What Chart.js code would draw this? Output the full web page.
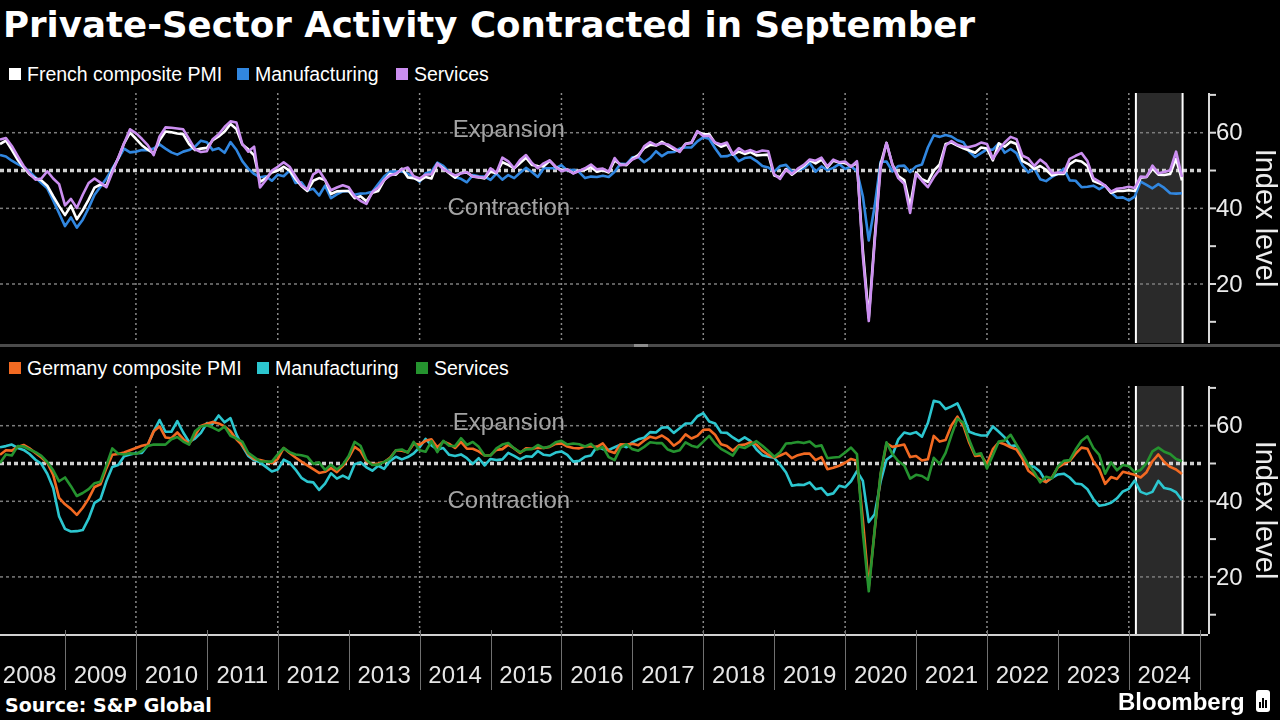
<!DOCTYPE html>
<html lang="en">
<head>
<meta charset="utf-8">
<title>Private-Sector Activity Contracted in September</title>
<script src="https://cdn.jsdelivr.net/npm/chart.js@4.4.1/dist/chart.umd.min.js"></script>
<style>
  html, body { margin: 0; padding: 0; background: #000; }
  #main { position: relative; width: 1280px; height: 720px; overflow: hidden; background: #000; color: #fff; font-family: "Liberation Sans", Arial, sans-serif; }
  #title { position: absolute; left: 3px; top: 3px; margin: 0; font-family: "DejaVu Sans", sans-serif; font-weight: bold; font-size: 35.6px; line-height: 44px; white-space: nowrap; }
  .legend { position: absolute; left: 0; width: 700px; height: 24px; font-size: 19.5px; }
  .legend-item { position: absolute; top: 0; line-height: 24px; white-space: nowrap; padding-left: 18px; }
  .legend-item i { position: absolute; left: 0; top: 6px; width: 12px; height: 12px; }
  canvas { position: absolute; left: 0; }
  #divider { position: absolute; left: 0; top: 344px; width: 1280px; height: 3px; background: #4b4b4b; }
  #divider-grip { position: absolute; left: 634px; top: 344px; width: 14px; height: 3px; background: #8c8c8c; }
  #source { position: absolute; left: 5px; top: 694px; font-family: "DejaVu Sans", sans-serif; font-weight: bold; font-size: 19px; line-height: 22px; white-space: nowrap; }
  #brand { position: absolute; left: 1118px; top: 688px; font-weight: bold; font-size: 24px; line-height: 28px; }
  #brand-icon { position: absolute; left: 1256px; top: 690px; width: 14px; height: 22px; background: #fff; border-radius: 3px; }
  #brand-icon span { position: absolute; bottom: 4px; width: 2px; background: #000; }
</style>
</head>
<body>
<div id="main">
  <h1 id="title">Private-Sector Activity Contracted in September</h1>
  <div class="legend" id="legend-fr" style="top:62px"></div>
  <canvas id="chart-fr" width="1280" height="250" style="top:93px"></canvas>
  <div id="divider"></div>
  <div id="divider-grip"></div>
  <div class="legend" id="legend-de" style="top:356px"></div>
  <canvas id="chart-de" width="1280" height="306" style="top:386px"></canvas>
  <div id="source">Source: S&amp;P Global</div>
  <div id="brand">Bloomberg</div>
  <div id="brand-icon">
    <span style="left:3px;height:6px"></span><span style="left:6px;height:10px"></span><span style="left:9px;height:8px"></span>
  </div>
</div>

<script>
// monthly values, Jan 2008 .. Sep 2024 (index 0 = Jan 2008)
const years = [2008, 2009, 2010, 2011, 2012, 2013, 2014, 2015, 2016, 2017, 2018, 2019, 2020, 2021, 2022, 2023, 2024];
const yTickLabels = [20, 40, 60];
const yTickMarks = [10, 20, 30, 40, 50, 60, 70];
const gridLevels = [20, 40, 60];
const neutralLevel = 50;

const frenchLabels = ["French composite PMI", "Manufacturing", "Services"];
const germanLabels = ["Germany composite PMI", "Manufacturing", "Services"];

const franceComposite = [
  57.0, 57.9, 55.5, 52.8, 50.8, 49.0, 47.9, 47.4, 46.0, 43.2, 40.6, 38.2,
  40.7, 37.1, 39.5, 42.3, 45.5, 46.3, 46.0, 50.0, 53.2, 57.2, 60.0, 58.4,
  56.7, 55.5, 54.5, 58.0, 60.3, 60.1, 59.8, 59.6, 57.0, 55.4, 55.8, 56.0,
  58.0, 59.0, 60.3, 62.3, 61.0, 56.9, 55.6, 54.0, 47.0, 48.0, 49.5, 50.0,
  51.0, 50.0, 47.8, 45.9, 44.6, 47.3, 48.0, 47.5, 43.8, 44.5, 44.6, 44.6,
  42.7, 43.2, 41.9, 44.1, 44.6, 47.4, 49.1, 48.9, 50.5, 48.2, 48.0, 47.3,
  48.3, 47.9, 51.8, 50.6, 49.3, 48.1, 49.4, 49.5, 48.4, 48.2, 47.9, 49.7,
  49.3, 52.2, 51.5, 50.6, 52.0, 53.4, 51.5, 51.2, 51.1, 52.6, 51.0, 50.1,
  50.2, 49.3, 50.0, 50.2, 50.9, 49.7, 50.1, 49.5, 52.7, 51.6, 51.4, 53.1,
  54.1, 55.9, 56.8, 56.6, 57.6, 56.6, 55.6, 55.1, 57.1, 57.4, 60.3, 59.6,
  59.6, 57.3, 56.3, 56.9, 54.2, 55.0, 54.4, 54.9, 54.0, 54.1, 54.2, 48.7,
  48.2, 50.4, 48.9, 50.1, 51.2, 52.7, 51.9, 52.9, 50.8, 52.6, 52.1, 52.0,
  51.1, 52.0, 28.9, 11.1, 32.1, 51.7, 57.3, 51.6, 48.5, 47.5, 40.6, 49.5,
  47.7, 47.0, 50.0, 51.6, 57.0, 57.4, 56.6, 55.9, 55.3, 54.7, 56.1, 55.8,
  52.7, 57.2, 56.3, 57.6, 57.0, 52.5, 51.7, 50.4, 51.2, 50.2, 48.7, 49.1,
  49.1, 51.7, 52.7, 52.4, 51.2, 47.2, 46.6, 46.0, 44.1, 44.6, 44.6, 44.8,
  44.6, 48.1, 48.3, 50.5, 48.9, 48.8, 49.1, 53.1, 47.4
];
const franceManufacturing = [
  54.1, 53.7, 52.6, 51.7, 50.9, 49.7, 48.2, 46.7, 45.3, 42.1, 38.7, 35.3,
  37.6, 34.9, 37.0, 40.1, 43.6, 45.7, 47.9, 50.5, 53.1, 55.8, 54.8, 55.0,
  55.4, 55.4, 55.8, 56.9, 55.8, 54.8, 54.2, 55.0, 55.4, 56.3, 57.9, 57.5,
  55.4, 55.9, 54.7, 57.5, 55.5, 52.5, 50.5, 49.1, 48.2, 48.5, 47.3, 48.9,
  48.5, 50.0, 46.7, 46.9, 44.7, 45.2, 43.4, 46.0, 42.7, 43.7, 44.5, 44.6,
  43.6, 43.9, 44.0, 44.4, 46.4, 48.4, 49.7, 49.7, 49.8, 49.1, 48.4, 47.0,
  49.3, 49.7, 52.1, 51.2, 49.6, 48.2, 47.8, 46.9, 48.8, 48.5, 48.4, 47.5,
  49.2, 47.6, 48.8, 48.0, 49.4, 50.7, 49.6, 48.3, 50.6, 50.6, 50.6, 51.4,
  50.0, 50.2, 49.6, 48.0, 48.4, 48.3, 48.6, 48.3, 49.7, 51.8, 51.7, 53.5,
  53.6, 52.2, 53.3, 55.1, 53.8, 54.8, 54.9, 55.8, 56.1, 56.1, 57.7, 58.8,
  58.4, 55.9, 53.7, 53.8, 54.4, 52.5, 53.3, 53.5, 52.5, 51.2, 50.8, 49.7,
  51.2, 51.5, 49.7, 50.0, 50.6, 52.0, 49.7, 51.1, 50.1, 50.7, 51.7, 50.4,
  51.1, 49.8, 43.2, 31.5, 40.6, 52.3, 52.4, 49.8, 51.2, 51.3, 49.6, 51.1,
  51.6, 56.1, 59.3, 58.9, 59.4, 59.0, 58.0, 57.5, 55.0, 53.6, 54.6, 55.6,
  55.5, 57.2, 54.7, 55.7, 54.6, 51.4, 49.5, 50.6, 47.7, 47.2, 48.3, 49.2,
  50.5, 47.4, 47.3, 45.6, 45.7, 46.0, 45.1, 46.0, 44.2, 42.8, 42.9, 42.1,
  43.1, 47.1, 46.2, 45.3, 46.4, 45.4, 44.0, 43.9, 44.0
];
const franceServices = [
  58.2, 58.6, 56.5, 53.8, 51.2, 49.2, 47.6, 47.9, 49.8, 47.9, 46.4, 40.8,
  42.5, 40.1, 43.6, 46.7, 47.9, 46.8, 45.6, 49.5, 53.4, 57.2, 60.9, 59.9,
  58.4, 56.7, 54.1, 59.0, 61.4, 61.3, 61.1, 60.9, 58.3, 55.6, 54.9, 55.1,
  58.3, 59.6, 61.5, 63.0, 62.7, 57.0, 55.0, 56.3, 45.5, 47.5, 50.0, 51.0,
  52.2, 51.0, 48.5, 46.1, 45.0, 49.0, 50.0, 47.5, 44.8, 45.5, 46.1, 45.6,
  43.2, 42.0, 41.2, 44.3, 45.5, 47.5, 48.7, 49.2, 50.3, 50.8, 48.5, 47.9,
  48.9, 49.0, 51.8, 50.4, 49.5, 48.7, 49.2, 49.6, 48.4, 48.3, 48.1, 50.6,
  49.4, 53.4, 52.4, 50.6, 52.8, 54.1, 52.0, 50.6, 51.9, 52.7, 51.0, 49.8,
  50.3, 49.2, 49.9, 50.6, 51.6, 50.3, 50.5, 49.7, 53.3, 51.4, 51.6, 52.9,
  53.6, 56.4, 57.5, 56.7, 57.2, 56.9, 56.0, 54.9, 57.0, 57.3, 60.4, 59.1,
  59.2, 57.4, 56.9, 57.4, 54.3, 55.9, 54.9, 55.4, 54.8, 55.3, 55.1, 49.0,
  47.8, 50.2, 49.1, 50.5, 51.5, 52.9, 52.6, 53.4, 51.1, 52.9, 52.2, 52.4,
  51.0, 52.5, 27.4, 10.2, 31.1, 50.7, 57.3, 51.5, 48.0, 46.5, 38.8, 49.1,
  47.3, 45.6, 48.2, 50.3, 56.6, 57.8, 56.8, 56.3, 56.2, 56.6, 57.4, 57.0,
  53.1, 55.5, 57.4, 58.9, 58.3, 53.9, 53.2, 51.2, 52.9, 51.7, 49.3, 49.5,
  49.4, 53.1, 53.9, 54.6, 52.5, 48.0, 47.1, 46.0, 44.4, 45.2, 45.4, 45.7,
  45.4, 48.4, 48.3, 51.3, 49.3, 49.6, 50.1, 55.0, 48.3
];

const germanyComposite = [
  52.3, 53.5, 53.4, 54.4, 54.9, 54.0, 52.8, 51.6, 50.2, 47.0, 40.9, 39.2,
  38.0, 36.4, 38.3, 40.7, 43.8, 44.5, 48.7, 52.3, 52.5, 52.9, 53.5, 54.1,
  54.7, 55.0, 58.5, 59.8, 56.9, 56.7, 58.2, 56.5, 55.2, 57.5, 59.9, 60.5,
  61.0, 60.6, 59.8, 58.5, 56.4, 54.8, 52.5, 51.2, 50.9, 50.5, 50.1, 51.2,
  54.1, 52.8, 51.6, 50.5, 49.5, 48.5, 47.5, 47.8, 48.8, 47.7, 49.3, 51.5,
  54.4, 53.3, 50.6, 49.8, 50.0, 50.4, 51.5, 53.5, 53.4, 53.0, 55.2, 55.0,
  56.0, 56.4, 54.3, 55.8, 55.2, 54.1, 55.7, 53.9, 53.9, 53.2, 52.1, 52.2,
  53.6, 53.8, 55.0, 54.0, 52.8, 54.0, 53.9, 54.2, 54.1, 54.4, 55.2, 55.3,
  54.5, 54.1, 54.0, 54.5, 54.5, 54.4, 55.3, 53.3, 52.8, 55.1, 55.0, 55.2,
  54.8, 56.1, 57.1, 56.7, 57.4, 56.4, 54.7, 55.8, 57.7, 56.6, 57.3, 58.9,
  59.0, 57.6, 55.1, 54.6, 53.4, 54.8, 55.0, 55.6, 55.0, 53.4, 52.3, 51.6,
  52.1, 52.8, 51.4, 52.2, 52.6, 52.6, 50.9, 51.7, 48.5, 48.9, 49.4, 50.2,
  51.2, 50.7, 35.0, 17.4, 32.3, 47.0, 55.3, 54.4, 54.7, 55.0, 51.7, 52.0,
  50.8, 51.1, 57.3, 55.8, 56.2, 60.1, 62.4, 60.0, 55.5, 52.0, 52.2, 49.9,
  53.8, 55.6, 55.1, 54.3, 53.7, 51.3, 48.1, 46.9, 45.7, 45.1, 46.3, 49.0,
  49.9, 50.7, 52.6, 54.2, 53.9, 50.6, 48.5, 44.6, 46.4, 45.9, 47.8, 47.4,
  47.0, 46.3, 47.7, 50.6, 52.4, 50.4, 49.1, 48.4, 47.2
];
const germanyManufacturing = [
  54.3, 54.6, 55.0, 54.1, 53.6, 52.5, 51.0, 49.9, 47.3, 43.5, 36.0, 32.7,
  32.0, 32.1, 32.4, 35.4, 39.6, 40.6, 45.3, 49.1, 49.6, 51.9, 52.4, 52.7,
  52.8, 54.8, 58.5, 61.5, 58.4, 58.4, 61.2, 58.2, 55.7, 56.6, 58.1, 60.7,
  60.5, 62.7, 60.9, 62.0, 57.7, 54.6, 52.0, 50.9, 50.3, 49.1, 47.9, 48.4,
  51.0, 50.2, 48.4, 46.2, 45.2, 45.0, 43.0, 44.7, 47.4, 46.0, 46.8, 46.0,
  49.8, 50.3, 49.0, 48.1, 49.4, 48.6, 50.7, 51.8, 51.1, 51.7, 52.7, 54.3,
  56.5, 54.8, 53.7, 54.1, 52.3, 52.0, 52.4, 51.4, 49.9, 51.4, 49.5, 51.2,
  50.9, 51.1, 52.8, 52.0, 51.1, 51.9, 51.8, 53.3, 52.3, 52.1, 52.9, 53.2,
  52.3, 50.5, 50.7, 51.8, 52.1, 54.5, 53.8, 53.6, 54.3, 55.0, 54.3, 55.6,
  56.4, 56.8, 58.3, 58.2, 59.5, 59.6, 58.1, 59.3, 60.6, 60.6, 62.5, 63.3,
  61.1, 60.6, 58.2, 58.1, 56.9, 55.9, 56.9, 55.9, 53.7, 52.2, 51.8, 51.5,
  49.7, 47.6, 44.1, 44.4, 44.3, 45.0, 43.2, 43.5, 41.7, 42.1, 44.1, 43.7,
  45.3, 48.0, 45.4, 34.5, 36.6, 45.2, 51.0, 52.2, 56.4, 58.2, 57.8, 58.3,
  57.1, 60.7, 66.6, 66.2, 64.4, 65.1, 65.9, 62.6, 58.4, 57.8, 57.4, 57.4,
  59.8, 58.4, 56.9, 54.6, 54.8, 52.0, 49.3, 49.1, 47.8, 45.1, 46.2, 47.1,
  47.3, 46.3, 44.7, 44.5, 43.2, 40.6, 38.8, 39.1, 39.6, 40.8, 42.6, 43.3,
  45.5, 42.5, 41.9, 42.5, 45.4, 43.5, 43.2, 42.4, 40.3
];
const germanyServices = [
  50.1, 52.4, 52.1, 54.6, 54.5, 53.7, 53.0, 52.0, 50.4, 48.2, 45.3, 46.3,
  44.0, 41.4, 42.2, 43.2, 44.8, 45.2, 49.5, 54.0, 52.6, 52.4, 52.7, 52.5,
  53.3, 54.6, 55.0, 55.0, 55.0, 56.4, 57.0, 55.8, 55.0, 58.5, 59.8, 60.1,
  59.5, 58.7, 59.8, 57.3, 56.6, 55.8, 52.8, 51.7, 50.6, 50.5, 50.5, 52.4,
  54.1, 53.0, 52.4, 52.2, 51.8, 49.9, 50.3, 48.3, 49.7, 48.4, 49.7, 52.0,
  55.7, 54.7, 50.9, 49.6, 49.7, 50.4, 51.3, 53.5, 53.7, 52.9, 55.7, 53.5,
  53.1, 55.9, 53.0, 56.0, 54.7, 54.6, 56.7, 54.9, 55.7, 54.4, 52.1, 52.1,
  54.0, 55.0, 55.4, 54.0, 53.0, 53.7, 53.8, 54.9, 54.1, 54.5, 55.6, 56.0,
  55.0, 55.3, 55.1, 54.5, 55.2, 53.7, 54.4, 51.7, 50.9, 54.2, 55.1, 53.8,
  53.4, 54.4, 55.6, 55.4, 55.4, 53.7, 53.1, 53.5, 55.6, 54.7, 54.3, 55.8,
  57.3, 55.3, 53.9, 53.0, 52.1, 54.5, 54.1, 55.0, 55.9, 54.7, 53.3, 51.8,
  53.0, 55.3, 55.4, 55.7, 55.4, 55.8, 54.5, 54.8, 51.4, 51.6, 51.7, 52.9,
  54.2, 52.5, 31.7, 16.2, 32.6, 47.3, 55.6, 52.5, 50.6, 49.5, 46.0, 47.0,
  46.7, 45.7, 51.5, 49.9, 52.8, 57.5, 61.8, 60.8, 56.2, 52.4, 52.7, 48.7,
  52.2, 55.8, 56.1, 57.6, 55.0, 52.4, 49.7, 47.7, 45.0, 46.5, 46.1, 49.2,
  50.7, 50.9, 53.7, 56.0, 57.2, 54.1, 52.3, 47.3, 50.3, 48.2, 49.6, 49.3,
  47.7, 48.3, 50.1, 53.2, 54.2, 53.1, 52.5, 51.2, 50.6
];

// highlighted stretch, in month index units (Jan 2024 .. Sep 2024)
const shadeFrom = 192.2;
const shadeTo = 200.1;

const FONT = '"Liberation Sans", Arial, sans-serif';

// month index of Jan 1st of a year (points sit at month end)
function yearEdge(year) {
  return (year - 2008) * 12 - 1;
}

const decorPlugin = {
  id: "decor",
  beforeDatasetsDraw(chart) {
    const { ctx, chartArea: a, scales: { x, y } } = chart;
    ctx.save();

    const sx0 = x.getPixelForValue(shadeFrom);
    const sx1 = x.getPixelForValue(shadeTo);
    ctx.fillStyle = "#2a2a2a";
    ctx.fillRect(sx0, a.top, sx1 - sx0, a.bottom - a.top);

    ctx.strokeStyle = "#8a8a8a";
    ctx.lineWidth = 1.5;
    ctx.setLineDash([2, 3]);
    years.filter((yr) => yr % 2 === 0 && yr > 2008).forEach((yr) => {
      const px = x.getPixelForValue(yearEdge(yr));
      ctx.beginPath();
      ctx.moveTo(px, a.top);
      ctx.lineTo(px, a.bottom);
      ctx.stroke();
    });

    ctx.strokeStyle = "#7c7c7c";
    ctx.setLineDash([3, 3]);
    gridLevels.forEach((v) => {
      const py = y.getPixelForValue(v);
      ctx.beginPath();
      ctx.moveTo(a.left, py);
      ctx.lineTo(a.right - 4, py);
      ctx.stroke();
    });

    const p50 = y.getPixelForValue(neutralLevel);
    ctx.strokeStyle = "#cfcfcf";
    ctx.lineWidth = 3.5;
    ctx.setLineDash([4, 3]);
    ctx.beginPath();
    ctx.moveTo(a.left, p50);
    ctx.lineTo(a.right - 4, p50);
    ctx.stroke();

    ctx.setLineDash([]);
    ctx.strokeStyle = "#ffffff";
    ctx.lineWidth = 2;
    [sx0, sx1].forEach((px) => {
      ctx.beginPath();
      ctx.moveTo(px, a.top);
      ctx.lineTo(px, a.bottom);
      ctx.stroke();
    });

    ctx.fillStyle = "#a3a3a3";
    ctx.font = "24px " + FONT;
    ctx.textAlign = "center";
    ctx.textBaseline = "middle";
    const tx = x.getPixelForValue(86.1);
    ctx.fillText("Expansion", tx, y.getPixelForValue(60.7));
    ctx.fillText("Contraction", tx, y.getPixelForValue(40.1));
    ctx.restore();
  },
  afterDraw(chart, args, opts) {
    const { ctx, chartArea: a, scales: { x, y } } = chart;
    ctx.save();

    ctx.strokeStyle = "#d9d9d9";
    ctx.lineWidth = 2;
    ctx.beginPath();
    ctx.moveTo(a.right + 1, a.top);
    ctx.lineTo(a.right + 1, a.bottom);
    ctx.stroke();
    yTickMarks.forEach((v) => {
      const py = y.getPixelForValue(v);
      ctx.beginPath();
      ctx.moveTo(a.right, py);
      ctx.lineTo(a.right + 8, py);
      ctx.stroke();
    });

    ctx.fillStyle = "#ececec";
    ctx.font = "24px " + FONT;
    ctx.textAlign = "left";
    ctx.textBaseline = "middle";
    yTickLabels.forEach((v) => ctx.fillText(String(v), a.right + 8, y.getPixelForValue(v) + 1));

    ctx.save();
    ctx.translate(1264, (a.top + a.bottom) / 2);
    ctx.rotate(Math.PI / 2);
    ctx.textAlign = "center";
    ctx.font = "29px " + FONT;
    ctx.fillText("Index level", 0, 0);
    ctx.restore();

    if (opts.xAxis) {
      ctx.strokeStyle = "#d0d0d0";
      ctx.lineWidth = 2;
      ctx.beginPath();
      ctx.moveTo(a.left, a.bottom + 1);
      ctx.lineTo(a.right, a.bottom + 1);
      ctx.stroke();

      ctx.strokeStyle = "#707070";
      ctx.lineWidth = 1;
      years.concat([2025]).forEach((yr) => {
        if (yr === 2008) return;
        const px = Math.round(x.getPixelForValue(yearEdge(yr))) + 0.5;
        ctx.beginPath();
        ctx.moveTo(px, a.bottom - 4);
        ctx.lineTo(px, a.bottom + 56);
        ctx.stroke();
      });

      ctx.fillStyle = "#e6e6e6";
      ctx.font = "24px " + FONT;
      ctx.textAlign = "center";
      ctx.textBaseline = "middle";
      years.forEach((yr) => {
        ctx.fillText(String(yr), x.getPixelForValue(yearEdge(yr) + 6), a.bottom + 42);
      });
    }
    ctx.restore();
  },
};

function renderLegend(id, labels, colors, lefts) {
  const box = document.getElementById(id);
  labels.forEach((label, i) => {
    const item = document.createElement("div");
    item.classList.add("legend-item");
    item.style.left = lefts[i] + "px";
    const sw = document.createElement("i");
    sw.style.background = colors[i];
    item.appendChild(sw);
    item.appendChild(document.createTextNode(label));
    box.appendChild(item);
  });
}

function toPoints(values) {
  return values.map((v, i) => ({ x: i, y: v }));
}

function renderPanel(canvasId, series, colors, withAxis, yMin) {
  // first dataset is drawn on top
  const datasets = [2, 0, 1].map((i) => ({
    data: toPoints(series[i]),
    borderColor: colors[i],
    borderWidth: 2.6,
    pointRadius: 0,
    tension: 0,
    borderJoinStyle: "round",
    fill: false,
  }));

  return new Chart(document.getElementById(canvasId), {
    type: "line",
    data: { datasets },
    options: {
      responsive: false,
      animation: false,
      devicePixelRatio: 1,
      events: [],
      layout: { padding: { left: 0, top: 0, right: 72, bottom: withAxis ? 58 : 0 } },
      scales: {
        x: { type: "linear", min: 0, max: 204.4, display: false },
        y: { type: "linear", min: yMin, max: 70.5, display: false },
      },
      plugins: {
        legend: { display: false },
        tooltip: { enabled: false },
        decor: { xAxis: withAxis },
      },
    },
    plugins: [decorPlugin],
  });
}

const frColors = ["#ffffff", "#3187e0", "#cb8ef0"];
const deColors = ["#f26a22", "#2cc6cf", "#25932f"];

renderLegend("legend-fr", frenchLabels, frColors, [9, 237, 396]);
renderLegend("legend-de", germanLabels, deColors, [9, 257, 416]);

renderPanel("chart-fr", [franceComposite, franceManufacturing, franceServices], frColors, false, 4.4);
renderPanel("chart-de", [germanyComposite, germanyManufacturing, germanyServices], deColors, true, 4.9);
</script>
</body>
</html>
